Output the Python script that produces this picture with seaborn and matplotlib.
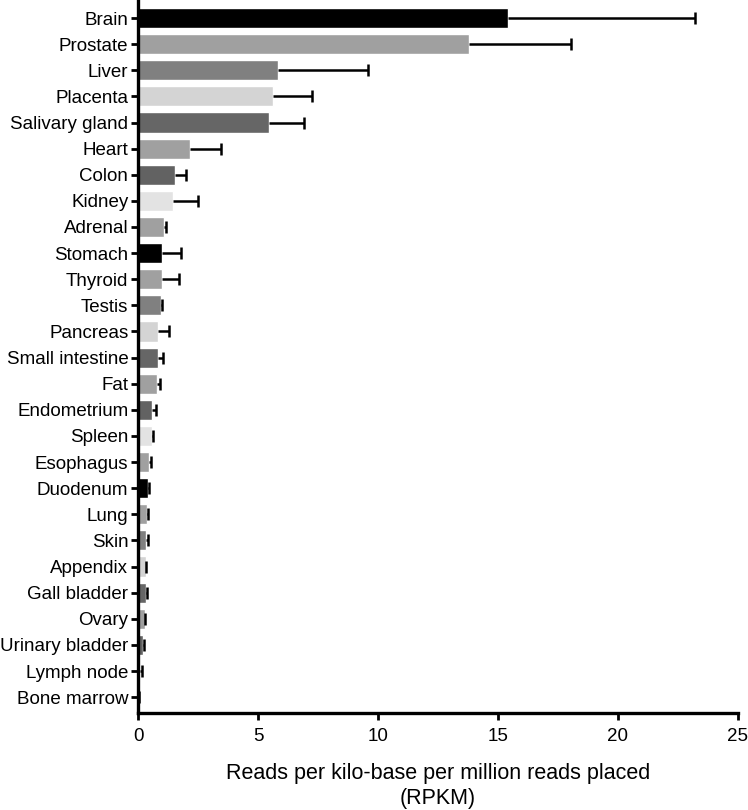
import numpy as np
import pandas as pd
import matplotlib
matplotlib.use("Agg")
import matplotlib.pyplot as plt
import seaborn as sns

tissues = ["Brain", "Prostate", "Liver", "Placenta", "Salivary gland", "Heart",
           "Colon", "Kidney", "Adrenal", "Stomach", "Thyroid", "Testis",
           "Pancreas", "Small intestine", "Fat", "Endometrium", "Spleen",
           "Esophagus", "Duodenum", "Lung", "Skin", "Appendix", "Gall bladder",
           "Ovary", "Urinary bladder", "Lymph node", "Bone marrow"]
rpkm = [15.42, 13.8, 5.83, 5.63, 5.47, 2.17, 1.53, 1.44, 1.08, 1.0, 0.99, 0.97,
        0.83, 0.83, 0.8, 0.57, 0.57, 0.47, 0.43, 0.37, 0.35, 0.32, 0.32,
        0.29, 0.22, 0.1, 0.02]
err_upper = [23.2, 18.04, 9.58, 7.27, 6.93, 3.47, 1.99, 2.49, 1.16, 1.78, 1.72, 1.02,
             1.28, 1.05, 0.93, 0.73, 0.64, 0.54, 0.46, 0.43, 0.42, 0.35, 0.39,
             0.31, 0.25, 0.15, 0.03]

shades = ["#000000", "#a0a0a0", "#808080", "#d4d4d4", "#666666",
          "#a0a0a0", "#626262", "#e3e3e3", "#a0a0a0"]
colors = [shades[i % len(shades)] for i in range(len(tissues))]

df = pd.DataFrame({"tissue": tissues, "rpkm": rpkm, "upper": err_upper})

sns.set_style("ticks", {"axes.edgecolor": "black", "text.color": "black",
                        "axes.labelcolor": "black", "xtick.color": "black",
                        "ytick.color": "black"})
plt.rcParams["font.family"] = ["Liberation Sans", "DejaVu Sans"]

fig = plt.figure(figsize=(7.48, 8.10), dpi=100)
ax = fig.add_axes([0.1845, 0.12, 0.802, 0.88])

sns.barplot(data=df, x="rpkm", y="tissue", hue="tissue", palette=colors,
            legend=False, orient="h", width=0.77, saturation=1, ax=ax)

ypos = np.arange(len(tissues))
eb = ax.errorbar(df["rpkm"], ypos,
                 xerr=[np.zeros(len(tissues)), df["upper"] - df["rpkm"]],
                 fmt="none", ecolor="black", elinewidth=1.8, capsize=4, capthick=1.8)
# one-sided bars: hide the caps sitting on the bar ends
eb[1][0].set_visible(False)

ax.set_xlim(0, 25)
ax.set_ylim(len(tissues) - 0.4, -0.69)
ax.set_xticks([0, 5, 10, 15, 20, 25])
ax.set_ylabel("")
ax.set_xlabel("Reads per kilo-base per million reads placed\n(RPKM)", fontsize=15.5,
              labelpad=13, linespacing=1.25)
ax.tick_params(axis="both", labelsize=13.5, width=2, length=5, direction="out")
ax.tick_params(axis="y", pad=2)
ax.tick_params(axis="x", pad=6)

for side in ["top", "right"]:
    ax.spines[side].set_visible(False)
for side in ["left", "bottom"]:
    ax.spines[side].set_linewidth(2.4)

fig.savefig("out.png", dpi=100)
